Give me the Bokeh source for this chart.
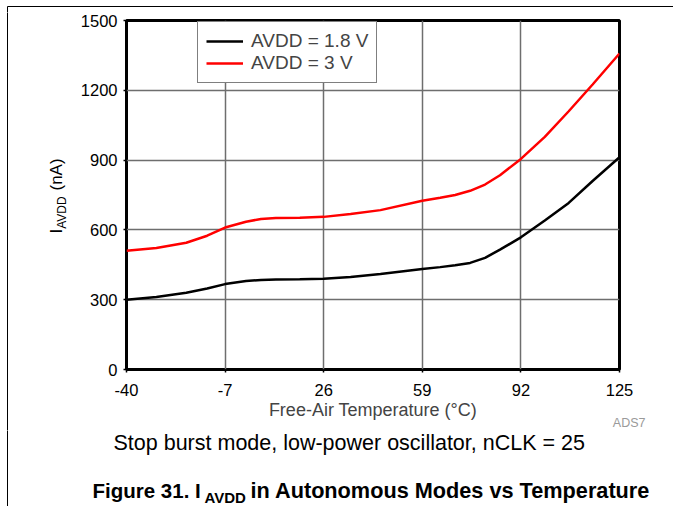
import math
from bokeh.plotting import figure
from bokeh.models import Range1d, Label, Legend, LegendItem, FixedTicker, Title
from bokeh.layouts import column, row
from bokeh.embed import file_html
from bokeh.resources import INLINE

# ---- data ----
temp_c = [-40, -30, -20, -13, -7, 0, 5, 10, 18, 26, 35, 45, 59, 65, 70, 75, 80, 85, 92, 100, 108, 116, 125]
i_avdd_1v8 = [300, 312, 330, 348, 367, 380, 385, 387, 388, 390, 398, 410, 432, 440, 448, 458, 480, 515, 568, 640, 716, 810, 912]
i_avdd_3v = [510, 522, 545, 575, 610, 635, 647, 651, 652, 656, 668, 685, 725, 738, 750, 768, 795, 835, 905, 1000, 1110, 1225, 1358]
x_ticks = [-40, -7, 26, 59, 92, 125]
x_tick_labels = ["-40", "-7", "26", "59", "92", "125"]
y_ticks = [0, 300, 600, 900, 1200, 1500]
series_labels = ["AVDD = 1.8 V", "AVDD = 3 V"]
series_colors = ["black", "#ff0000"]

FONT = "Liberation Sans"
PAGE_W, PAGE_H = 673, 506
TOP_H = 12          # strip above the chart
LEFT_W = 70         # strip left of the chart (y label)
MID_BOTTOM = 430    # page y where the chart canvas ends
# frame in page pixels
FL, FR, FT, FB = 126, 619, 20, 369
XMIN, XMAX, YMIN, YMAX = -40, 125, 0, 1500

MID_H = MID_BOTTOM - TOP_H
MAIN_W = PAGE_W - LEFT_W

p = figure(width=MAIN_W, height=MID_H, output_backend="svg", toolbar_location=None,
           x_range=Range1d(XMIN, XMAX), y_range=Range1d(YMIN, YMAX),
           min_border_left=FL - LEFT_W, min_border_right=PAGE_W - FR,
           min_border_top=FT - TOP_H, min_border_bottom=MID_BOTTOM - FB)
p.frame_align = False
p.background_fill_color = "white"
p.border_fill_color = "white"
p.outline_line_color = "black"
p.outline_line_width = 3

for ax in (p.xaxis[0], p.yaxis[0]):
    ax.axis_line_color = None
    ax.major_tick_in = 0
    ax.major_tick_out = 3
    ax.major_tick_line_width = 1.5
    ax.major_tick_line_color = "black"
    ax.minor_tick_line_color = None
    ax.major_label_text_font = FONT
    ax.major_label_text_font_size = "16.5px"
    ax.major_label_text_color = "black"

p.xaxis.ticker = FixedTicker(ticks=x_ticks)
p.xaxis.major_label_overrides = dict(zip(x_ticks, x_tick_labels))
p.yaxis.ticker = FixedTicker(ticks=y_ticks)
p.xaxis.major_label_standoff = 11
p.yaxis.major_label_standoff = 6
p.xaxis.axis_label = "Free-Air Temperature (°C)"
p.xaxis.axis_label_text_font = FONT
p.xaxis.axis_label_text_font_style = "normal"
p.xaxis.axis_label_text_font_size = "18px"
p.xaxis.axis_label_standoff = 1

p.grid.grid_line_color = "#6e6e6e"
p.grid.grid_line_width = 1.5

r1 = p.line(temp_c, i_avdd_1v8, line_color=series_colors[0], line_width=2.5)
r2 = p.line(temp_c, i_avdd_3v, line_color=series_colors[1], line_width=2.5)

LEG_PAD, LEG_ROW = 8, 22
legend = Legend(items=[LegendItem(label=series_labels[0], renderers=[r1]),
                       LegendItem(label=series_labels[1], renderers=[r2])],
                location=(71, (FB - FT) - (2 * LEG_PAD + 2 * LEG_ROW) - 3))
legend.border_line_color = "black"
legend.border_line_width = 1.5
legend.background_fill_alpha = 1
legend.padding = LEG_PAD
legend.spacing = 0
legend.margin = 0
legend.glyph_width = 37
legend.glyph_height = 20
legend.label_height = 20
legend.label_standoff = 8
legend.label_text_font = FONT
legend.label_text_font_size = "19px"
p.add_layout(legend)

p.add_layout(Title(text="ADS7", align="right", offset=-26, standoff=-14, vertical_align="top",
                   text_font=FONT, text_font_size="12.5px", text_font_style="normal",
                   text_color="#9a9a9a"), "below")


def blank_fig(w, h):
    f = figure(width=w, height=h, output_backend="svg", toolbar_location=None,
               x_range=Range1d(0, w), y_range=Range1d(0, h),
               x_axis_location=None, y_axis_location=None, min_border=0)
    f.frame_align = False
    f.outline_line_color = None
    f.grid.visible = False
    f.background_fill_color = "white"
    f.border_fill_color = "white"
    return f


def put(f, top, txt, px, py, size, style="normal", color="black", align="left", angle=0.0):
    # (px, py): page position of the text's left end, vertically at its middle
    h = f.height
    f.add_layout(Label(x=px, y=h - (py - top), text=txt, text_font=FONT, text_font_size=size,
                       text_font_style=style, text_color=color, text_align=align,
                       text_baseline="middle", angle=angle))


def page_lines(f, top, left_x=7, top_y=None):
    h = f.height
    y_end = h + 2 if top_y is None else h - (top_y - top)
    f.segment(x0=[left_x], y0=[-2], x1=[left_x], y1=[y_end], line_color="black", line_width=1)
    if top_y is not None:
        f.segment(x0=[left_x], y0=[y_end], x1=[f.width], y1=[y_end],
                  line_color="black", line_width=1)


# top strip with the page frame line
top_fig = blank_fig(PAGE_W, TOP_H)
page_lines(top_fig, 0, top_y=6)

# y-axis label with subscript (rotated)
left_fig = blank_fig(LEFT_W, MID_H)
page_lines(left_fig, TOP_H)
put(left_fig, TOP_H, "I", 56, 233, "17px", angle=math.pi / 2)
put(left_fig, TOP_H, "AVDD", 61, 228.3, "12px", angle=math.pi / 2)
put(left_fig, TOP_H, "(nA)", 56, 190, "17px", angle=math.pi / 2)

# captions
bot_fig = blank_fig(PAGE_W, PAGE_H - MID_BOTTOM)
page_lines(bot_fig, MID_BOTTOM)
put(bot_fig, MID_BOTTOM, "Stop burst mode, low-power oscillator, nCLK = 25", 113, 442, "21.5px")
put(bot_fig, MID_BOTTOM, "Figure 31. I", 92, 490, "20.5px", style="bold")
put(bot_fig, MID_BOTTOM, "AVDD", 204, 497, "15px", style="bold")
put(bot_fig, MID_BOTTOM, " in Autonomous Modes vs Temperature", 250, 490, "21.7px", style="bold")

layout = column(top_fig, row(left_fig, p), bot_fig)

open("out.html", "w").write(file_html(layout, INLINE))
